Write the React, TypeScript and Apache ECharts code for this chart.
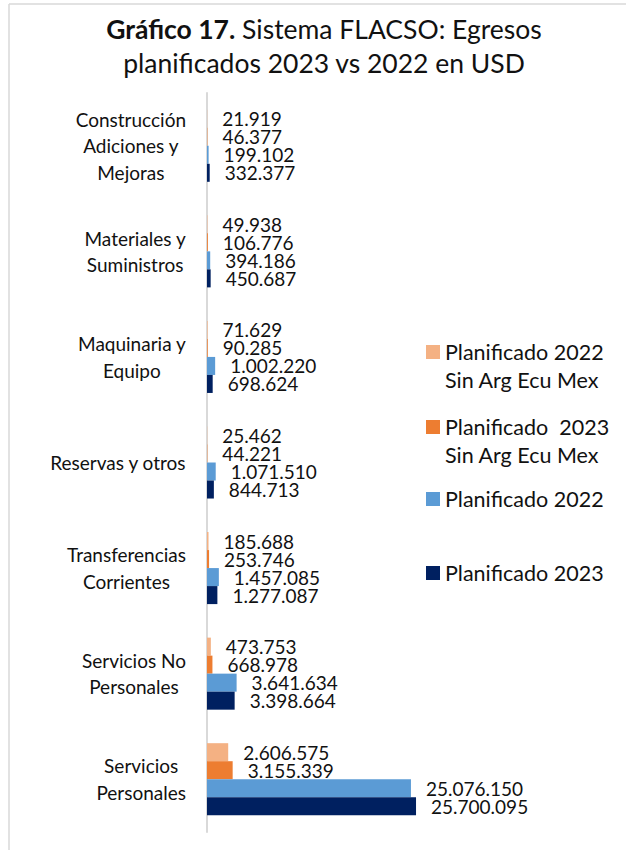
import React, { useEffect, useRef } from "react";
import * as echarts from "echarts";

const categories = [
  "Construcción\nAdiciones y\nMejoras",
  "Materiales y\nSuministros",
  "Maquinaria y\nEquipo",
  "Reservas y otros",
  "Transferencias\nCorrientes",
  "Servicios No\nPersonales",
  "Servicios\nPersonales",
];

const seriesNames = [
  "Planificado 2022\nSin Arg Ecu Mex",
  "Planificado  2023\nSin Arg Ecu Mex",
  "Planificado 2022",
  "Planificado 2023",
];

const plan2022SinArgEcuMex = [21919, 49938, 71629, 25462, 185688, 473753, 2606575];
const plan2023SinArgEcuMex = [46377, 106776, 90285, 44221, 253746, 668978, 3155339];
const plan2022 = [199102, 394186, 1002220, 1071510, 1457085, 3641634, 25076150];
const plan2023 = [332377, 450687, 698624, 844713, 1277087, 3398664, 25700095];

const seriesColors = ["#F4B183", "#ED7D31", "#5B9BD5", "#002060"];

const FONT = "Lato, 'Open Sans', sans-serif";

const fmt = (v: number) => String(v).replace(/\B(?=(\d{3})+(?!\d))/g, ".");

export default function App() {
  const ref = useRef<HTMLDivElement>(null);
  useEffect(() => {
    if (!ref.current) return;
    const chart = echarts.init(ref.current, undefined, { renderer: "svg" });
    const values = [plan2022SinArgEcuMex, plan2023SinArgEcuMex, plan2022, plan2023];
    const legendTops = [310, 385, 485, 559];
    const option = {
      animation: false,
      backgroundColor: "#ffffff",
      title: {
        text: "{b|Gráfico 17.} Sistema FLACSO: Egresos\nplanificados 2023 vs 2022 en USD",
        left: 324,
        textAlign: "center",
        top: 12,
        padding: 0,
        textStyle: {
          fontFamily: FONT,
          fontSize: 26.5,
          fontWeight: "normal",
          color: "#111",
          lineHeight: 34,
          rich: {
            b: { fontFamily: FONT, fontSize: 26.5, fontWeight: "bold", color: "#111", lineHeight: 34 },
          },
        },
      },
      legend: seriesNames.map((n, i) => ({
        data: [n],
        orient: "vertical",
        left: 426,
        top: legendTops[i],
        padding: 0,
        itemWidth: 14,
        itemHeight: 14,
        icon: "rect",
        formatter: (name: string) => (name.includes("\n") ? " \n" + name : name),
        textStyle: {
          fontFamily: FONT,
          fontSize: 21.5,
          color: "#111",
          lineHeight: 28,
        },
      })),
      grid: { left: 207, width: 244, top: 93, bottom: 18, containLabel: false },
      xAxis: {
        type: "value",
        min: 0,
        max: 30000000,
        show: false,
        splitLine: { show: false },
      },
      yAxis: {
        type: "category",
        data: categories,
        inverse: true,
        axisLine: { show: true, lineStyle: { color: "#d9d9d9", width: 2 } },
        axisTick: { show: false },
        axisLabel: {
          margin: 21,
          align: "right",
          fontFamily: FONT,
          fontSize: 19,
          color: "#111",
          lineHeight: 26.5,
          formatter: (v: string) => v.split("\n").map((l) => `{c|${l}}`).join("\n"),
          rich: { c: { align: "center", fontFamily: FONT, fontSize: 19, color: "#111", lineHeight: 26.5 } },
        },
      },
      series: seriesNames.map((n, i) => ({
        type: "bar",
        name: n,
        data: values[i],
        barGap: "0%",
        barCategoryGap: "31.75%",
        itemStyle: { color: seriesColors[i] },
        label: {
          show: true,
          position: "right",
          distance: 15,
          fontFamily: FONT,
          fontSize: 19,
          lineHeight: 17,
          color: "#111",
          formatter: (p: any) => fmt(p.value),
        },
      })),
      graphic: [
        { type: "line", shape: { x1: 9, y1: 4, x2: 626, y2: 4 }, style: { stroke: "#d9d9d9", lineWidth: 1.5 } },
        { type: "line", shape: { x1: 9, y1: 4, x2: 9, y2: 850 }, style: { stroke: "#d9d9d9", lineWidth: 1.5 } },
      ],
    };
    chart.setOption(option as any);
    return () => chart.dispose();
  }, []);
  return (
    <div
      ref={ref}
      style={{ position: "absolute", left: 0, top: 0, width: 626, height: 850 }}
    />
  );
}
